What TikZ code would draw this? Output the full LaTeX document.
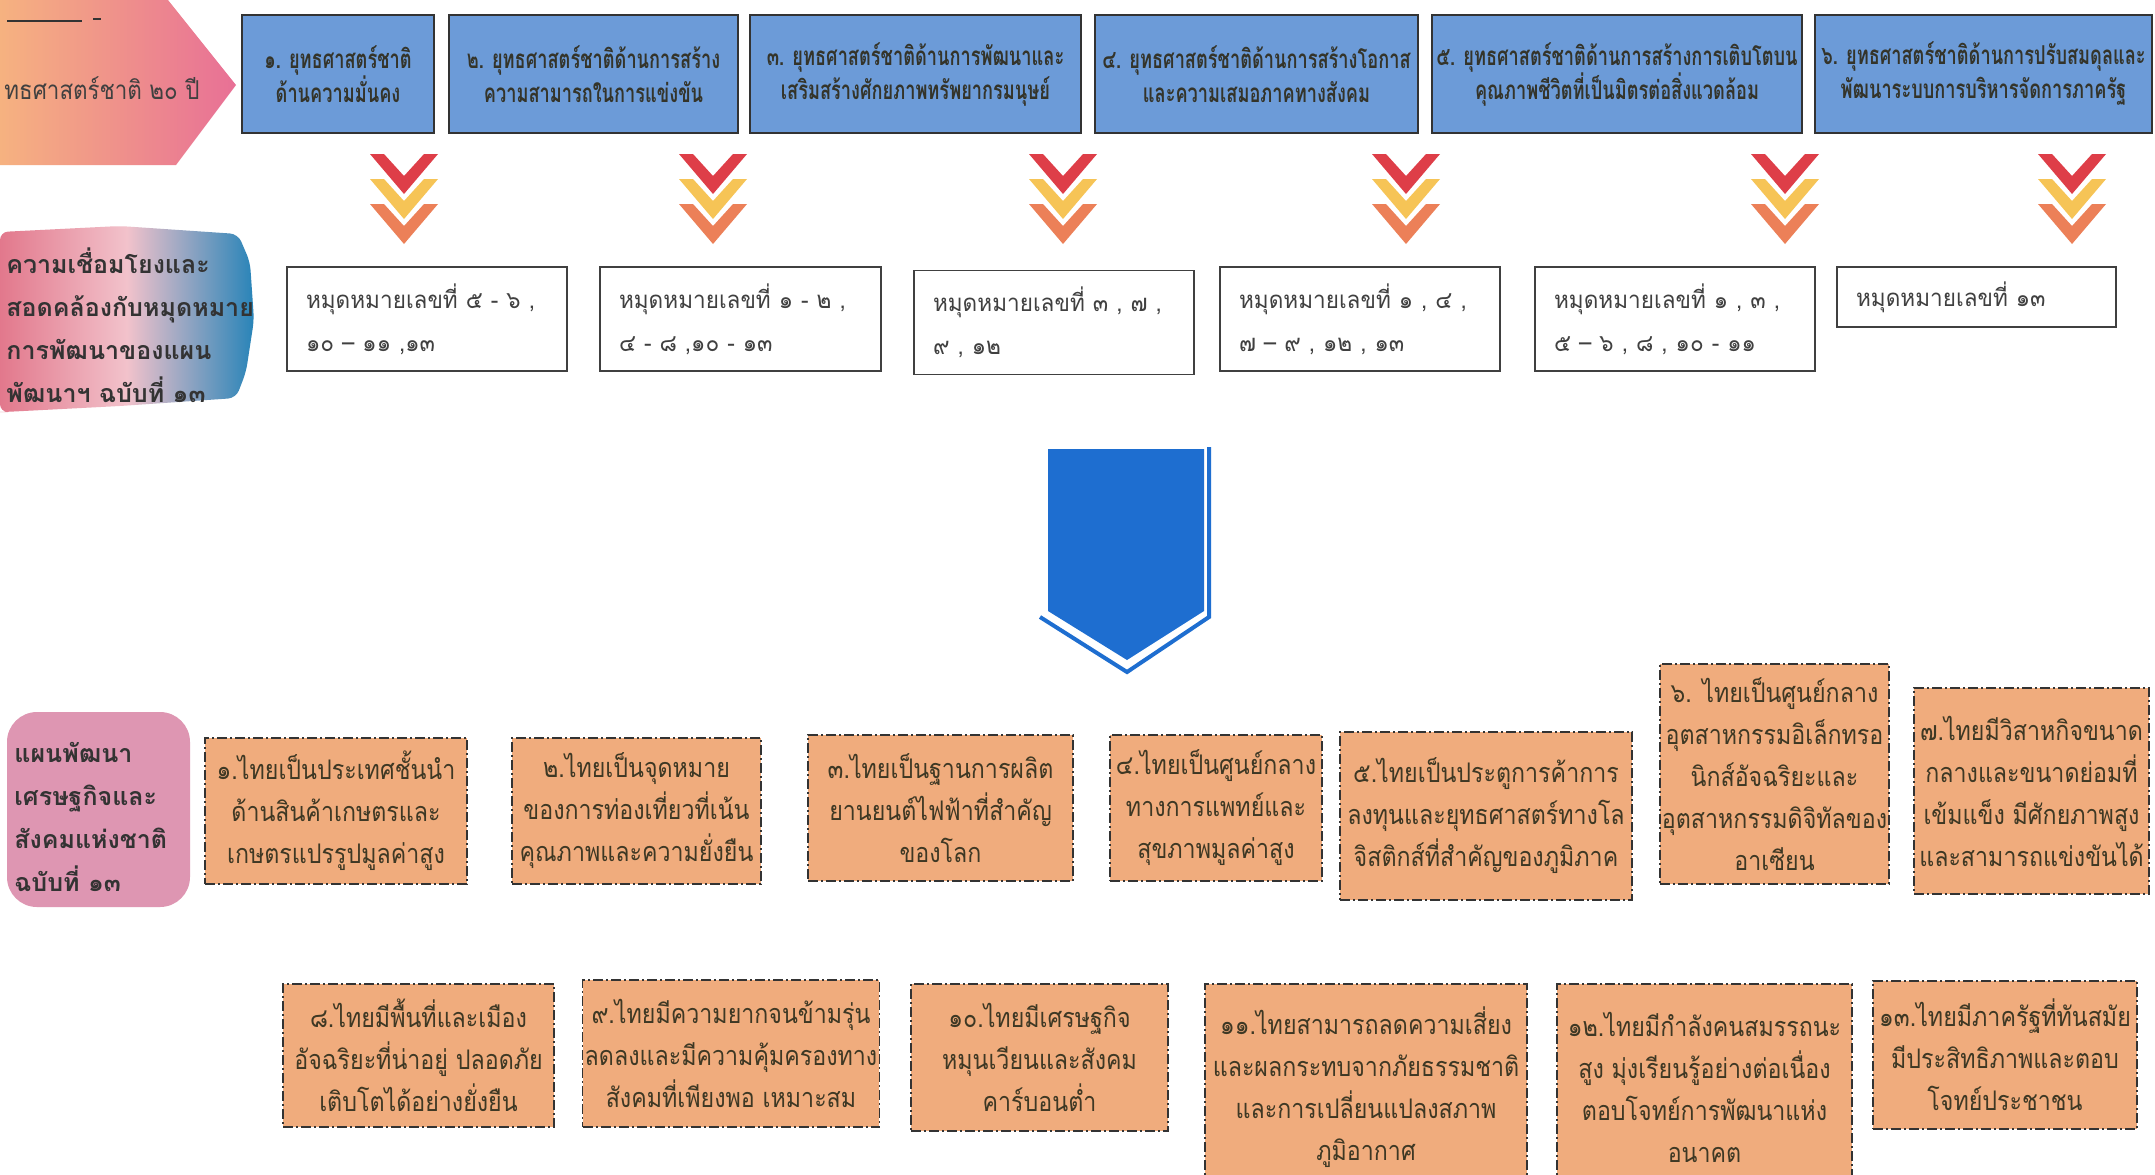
\documentclass[tikz,border=0pt]{standalone}
\usepackage{fontspec}
\newfontfamily\thai[Script=Thai]{Loma}
\newfontfamily\thaigoal[Script=Thai, FakeStretch=0.7]{Loma}
\newfontfamily\thaiplan[Script=Thai, FakeStretch=0.86]{Loma}
\newfontfamily\thaimile[Script=Thai, FakeStretch=0.94]{Loma}

\definecolor{goalblue}{RGB}{108,155,216}
\definecolor{goaltext}{RGB}{52,52,42}
\definecolor{arrowblue}{RGB}{30,110,208}
\definecolor{vred}{RGB}{222,62,72}
\definecolor{vyellow}{RGB}{246,196,86}
\definecolor{vorange}{RGB}{236,128,88}
\definecolor{planfill}{RGB}{240,172,125}
\definecolor{plantext}{RGB}{62,56,36}
\definecolor{headorange}{RGB}{246,178,128}
\definecolor{headpink}{RGB}{232,112,150}
\definecolor{linkpink}{RGB}{226,120,140}
\definecolor{linkblue}{RGB}{40,132,184}
\definecolor{nesdpink}{RGB}{222,150,178}

\begin{document}
\begin{tikzpicture}[x=0.5pt, y=-0.5pt,
    goal/.style={draw=black!80, line width=1pt, fill=goalblue, text=goaltext, align=center,
      font=\thaigoal\bfseries\fontsize{13}{17}\selectfont, inner sep=2pt},
    mile/.style={draw=black!75, line width=0.9pt, fill=white, text=black!75, align=left,
      inner xsep=9.5pt, font=\thaimile\fontsize{12}{21.5}\selectfont},
    plan/.style={draw=black!80, line width=0.7pt, dash pattern=on 5pt off 1.5pt on 1pt off 1.5pt,
      fill=planfill, text=plantext, align=center, font=\thaiplan\fontsize{13.5}{21}\selectfont, inner sep=1pt},
    side/.style={align=left, anchor=west, text=black!80, inner sep=0pt,
      font=\thai\bfseries\fontsize{12.5}{21.5}\selectfont}]
    \clip (0,0) rectangle (2155,1174);
    \fill[white] (0,0) rectangle (2155,1174);

    % side headings
    \shade[left color=headorange, right color=headpink] (0,0) -- (168,0) -- (236,85) -- (176,165) -- (0,165) -- cycle;
    \draw[black!80, line width=0.8pt] (7,21) -- (82,21) (93,19) -- (101,19);
    \node[side, font=\thaiplan\fontsize{13}{16}\selectfont, text=black!75] (head) at (4,88) {ทธศาสตร์ชาติ ๒๐ ปี};

    \shade[left color=linkpink, right color=linkblue, middle color=linkpink!45, rounded corners=4pt]
      (0,232) -- (120,226) -- (238,234) -- (250,262) -- (254,320) -- (246,372) -- (236,398) -- (120,406) -- (4,412) -- (0,412) -- cycle;
    \node[side] (link) at (6,325) {ความเชื่อมโยงและ\\สอดคล้องกับหมุดหมาย\\การพัฒนาของแผน\\พัฒนาฯ ฉบับที่ ๑๓};

    \fill[nesdpink, rounded corners=15pt] (7,712) rectangle (190,907);
    \node[side] (nesd) at (14,817) {แผนพัฒนา\\เศรษฐกิจและ\\สังคมแห่งชาติ\\ฉบับที่ ๑๓};

    % strategies
    \node[goal, minimum width=96pt, minimum height=59pt] (g1) at (338,74) {๑. ยุทธศาสตร์ชาติ\\ด้านความมั่นคง};
    \node[goal, minimum width=144.5pt, minimum height=59pt] (g2) at (593.5,74) {๒. ยุทธศาสตร์ชาติด้านการสร้าง\\ความสามารถในการแข่งขัน};
    \node[goal, minimum width=165.5pt, minimum height=59pt] (g3) at (915.5,74) {๓. ยุทธศาสตร์ชาติด้านการพัฒนาและ\\เสริมสร้างศักยภาพทรัพยากรมนุษย์};
    \node[goal, minimum width=161.5pt, minimum height=59pt] (g4) at (1256.5,74) {๔. ยุทธศาสตร์ชาติด้านการสร้างโอกาส\\และความเสมอภาคทางสังคม};
    \node[goal, minimum width=184pt, minimum height=59pt] (g5) at (1617,74) {๕. ยุทธศาสตร์ชาติด้านการสร้างการเติบโตบน\\คุณภาพชีวิตที่เป็นมิตรต่อสิ่งแวดล้อม};
    \node[goal, minimum width=168.5pt, minimum height=59pt] (g6) at (1983.5,74) {๖. ยุทธศาสตร์ชาติด้านการปรับสมดุลและ\\พัฒนาระบบการบริหารจัดการภาครัฐ};

    % chevrons
    \foreach \cx in {404,713,1063,1406,1785,2072}
      \foreach \t/\c in {204/vorange,179/vyellow,154/vred}
        \fill[\c] (\cx-34,\t) -- (\cx-20,\t) -- (\cx,\t+22) -- (\cx+20,\t) -- (\cx+34,\t) -- (\cx,\t+40) -- cycle;

    % milestones
    \node[mile, text width=121pt, minimum height=52pt] (m1) at (427,319) {หมุดหมายเลขที่ ๕ - ๖ ,\\๑๐ – ๑๑ ,๑๓};
    \node[mile, text width=121.5pt, minimum height=52pt] (m2) at (740.5,319) {หมุดหมายเลขที่ ๑ - ๒ ,\\๔ - ๘ ,๑๐ - ๑๓};
    \node[mile, text width=121pt, minimum height=52pt] (m3) at (1054,322.5) {หมุดหมายเลขที่ ๓ , ๗ ,\\๙ , ๑๒};
    \node[mile, text width=121pt, minimum height=52pt] (m4) at (1360,319) {หมุดหมายเลขที่ ๑ , ๔ ,\\๗ – ๙ , ๑๒ , ๑๓};
    \node[mile, text width=121pt, minimum height=52pt] (m5) at (1675,319) {หมุดหมายเลขที่ ๑ , ๓ ,\\๕ – ๖ , ๘ , ๑๐ - ๑๑};
    \node[mile, text width=120.5pt, minimum height=30pt] (m6) at (1976.5,297) {หมุดหมายเลขที่ ๑๓};

    % down arrow
    \fill[arrowblue] (1048,449) -- (1204,449) -- (1204,611) -- (1127,660) -- (1048,611) -- cycle;
    \draw[arrowblue, line width=2pt] (1040,617) -- (1127,672) -- (1209,617) -- (1209,447);

    % plan goals
    \node[plan, minimum width=131pt, minimum height=73pt] (p1) at (336,811) {๑.ไทยเป็นประเทศชั้นนำ\\ด้านสินค้าเกษตรและ\\เกษตรแปรรูปมูลค่าสูง};
    \node[plan, minimum width=124.5pt, minimum height=73pt] (p2) at (636.5,811) {๒.ไทยเป็นจุดหมาย\\ของการท่องเที่ยวที่เน้น\\คุณภาพและความยั่งยืน};
    \node[plan, minimum width=132.5pt, minimum height=73pt] (p3) at (940.5,808) {๓.ไทยเป็นฐานการผลิต\\ยานยนต์ไฟฟ้าที่สำคัญ\\ของโลก};
    \node[plan, minimum width=106pt, minimum height=73pt] (p4) at (1216,808) {๔.ไทยเป็นศูนย์กลาง\\ทางการแพทย์และ\\สุขภาพมูลค่าสูง};
    \node[plan, minimum width=146pt, minimum height=84pt] (p5) at (1486,816) {๕.ไทยเป็นประตูการค้าการ\\ลงทุนและยุทธศาสตร์ทางโล\\จิสติกส์ที่สำคัญของภูมิภาค};
    \node[plan, minimum width=114.5pt, minimum height=110pt] (p6) at (1774.5,774) {๖. ไทยเป็นศูนย์กลาง\\อุตสาหกรรมอิเล็กทรอ\\นิกส์อัจฉริยะและ\\อุตสาหกรรมดิจิทัลของ\\อาเซียน};
    \node[plan, minimum width=117.5pt, minimum height=103pt] (p7) at (2031.5,791) {๗.ไทยมีวิสาหกิจขนาด\\กลางและขนาดย่อมที่\\เข้มแข็ง มีศักยภาพสูง\\และสามารถแข่งขันได้};

    \node[plan, minimum width=135.5pt, minimum height=71.5pt] (p8) at (418.5,1055.5) {๘.ไทยมีพื้นที่และเมือง\\อัจฉริยะที่น่าอยู่ ปลอดภัย\\เติบโตได้อย่างยั่งยืน};
    \node[plan, minimum width=144pt, minimum height=73.5pt] (p9) at (731,1053.5) {๙.ไทยมีความยากจนข้ามรุ่น\\ลดลงและมีความคุ้มครองทาง\\สังคมที่เพียงพอ เหมาะสม};
    \node[plan, minimum width=128.5pt, minimum height=73.5pt] (p10) at (1039.5,1057.5) {๑๐.ไทยมีเศรษฐกิจ\\หมุนเวียนและสังคม\\คาร์บอนต่ำ};
    \node[plan, minimum width=161pt, minimum height=103pt] (p11) at (1366,1087) {๑๑.ไทยสามารถลดความเสี่ยง\\และผลกระทบจากภัยธรรมชาติ\\และการเปลี่ยนแปลงสภาพ\\ภูมิอากาศ};
    \node[plan, minimum width=147.5pt, minimum height=103pt] (p12) at (1704.5,1087) {๑๒.ไทยมีกำลังคนสมรรถนะ\\สูง มุ่งเรียนรู้อย่างต่อเนื่อง\\ตอบโจทย์การพัฒนาแห่ง\\อนาคต};
    \node[plan, minimum width=132pt, minimum height=74pt] (p13) at (2005,1055) {๑๓.ไทยมีภาครัฐที่ทันสมัย\\มีประสิทธิภาพและตอบ\\โจทย์ประชาชน};
\end{tikzpicture}
\end{document}
